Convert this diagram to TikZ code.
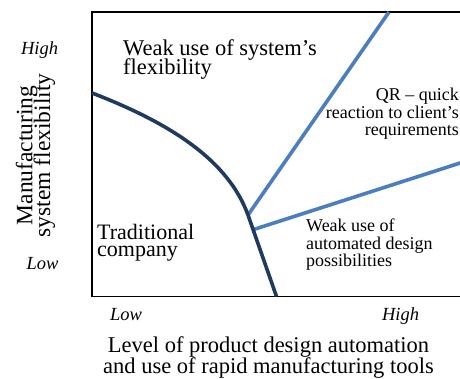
\documentclass[tikz,border=0pt]{standalone}
\usepackage{fontspec}
\setmainfont{Liberation Serif}
\usetikzlibrary{calc}
\definecolor{curvenavy}{HTML}{1F3A60}
\definecolor{lineblue}{HTML}{4A7EC0}
\newcommand{\tightlines}{\lineskiplimit=-30pt\relax}
\begin{document}
\begin{tikzpicture}[x=1pt, y=1pt,
    big/.style={inner sep=0pt, font=\fontsize{22.5}{19}\selectfont\tightlines},
    small/.style={inner sep=0pt, font=\fontsize{18}{17.5}\selectfont\tightlines},
    tick/.style={inner sep=0pt, anchor=base, font=\fontsize{18.5}{18.5}\selectfont\itshape},
    navyline/.style={draw=curvenavy, line width=3.6pt},
    blueline/.style={draw=lineblue, line width=3.6pt}]
    \useasboundingbox (0,0) rectangle (460,378);

    % Axes
    \draw[line width=1.2pt] (462,366) -- (92,366) -- (92,81.5) -- (462,81.5);
    \node[tick] (yhigh) at (39.5,323) {High};
    \node[tick] (ylow)  at (42.5,109) {Low};
    \node[tick] (xlow)  at (126,58)   {Low};
    \node[tick] (xhigh) at (400.5,58) {High};
    \node[big, align=center, anchor=north, font=\fontsize{22.5}{21.6}\selectfont\tightlines] (xlabel) at (268.5,41.7)
      {Level of product design automation\\and use of rapid manufacturing tools};
    \node[big, align=center, rotate=90, font=\fontsize{23.5}{17.8}\selectfont\tightlines] (ylabel) at (35.6,222.5)
      {Manufacturing\\system flexibility};

    % Curves
    \coordinate (start)    at (92,285);
    \coordinate (kneeA)    at (248,163);
    \coordinate (foot)     at (276.5,81.5);
    \coordinate (kneeB)    at ($(kneeA)!0.18!(foot)$);
    \coordinate (topend)   at (389,366);
    \coordinate (rightend) at (462,215.6);
      \draw[blueline] (kneeA) -- (topend);
      \draw[blueline] (kneeB) -- (rightend);
      \draw[navyline] (start) .. controls (170,255) and (228,218) .. (kneeA) -- (foot);

    % Regions
    \node[big, align=left, anchor=north west] (weakflex) at (123,339)
      {Weak use of system's\\flexibility};
    \node[small, align=right, anchor=north east] (quickreact) at (459,290)
      {QR -- quick\\reaction to client's\\requirements};
    \node[small, align=left, anchor=north west] (weakauto) at (306,159)
      {Weak use of\\automated design\\possibilities};
    \node[big, align=left, anchor=north west, font=\fontsize{22}{16.8}\selectfont\tightlines] (tradco) at (97,154)
      {Traditional\\company};
  \end{tikzpicture}
\end{document}
